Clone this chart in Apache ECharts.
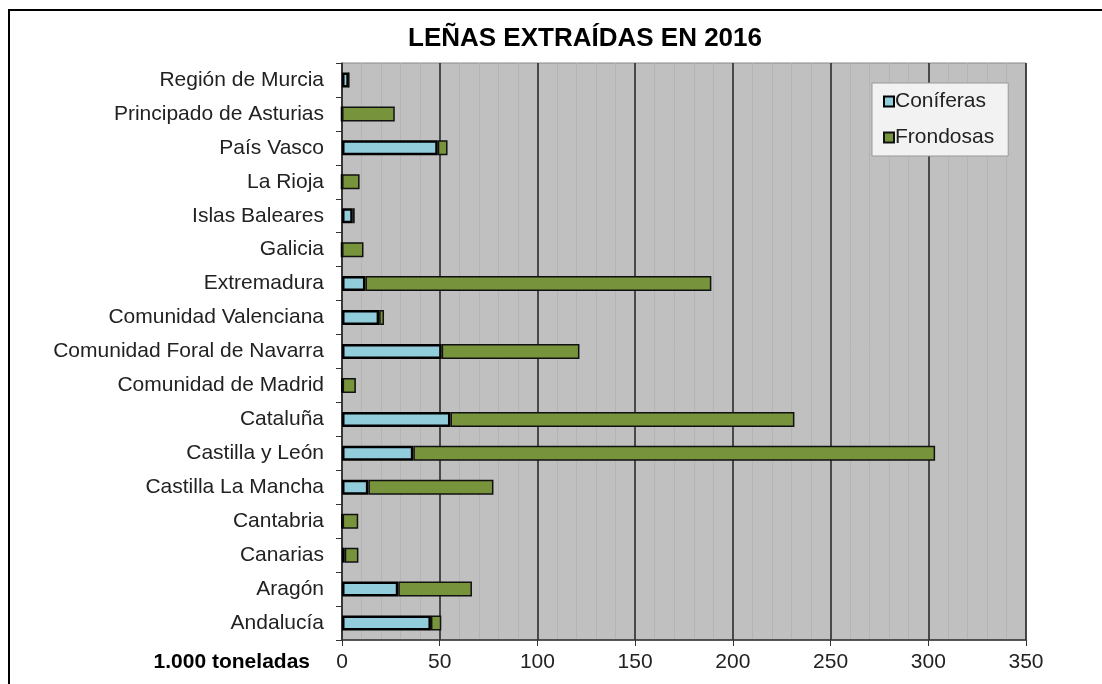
<!DOCTYPE html>
<html>
<head>
<meta charset="utf-8">
<script src="https://cdn.jsdelivr.net/npm/echarts@6/dist/echarts.min.js"></script>
<style>
html, body { margin: 0; padding: 0; background: #fff; }
#chart-panel { width: 1102px; height: 684px; }
</style>
</head>
<body>
<div id="chart-panel"></div>
<script>
var regiones = ['Región de Murcia', 'Principado de Asturias', 'País Vasco', 'La Rioja',
    'Islas Baleares', 'Galicia', 'Extremadura', 'Comunidad Valenciana',
    'Comunidad Foral de Navarra', 'Comunidad de Madrid', 'Cataluña', 'Castilla y León',
    'Castilla La Mancha', 'Cantabria', 'Canarias', 'Aragón', 'Andalucía'];
// miles de toneladas
var coniferas = [3.5, 0, 49, 0, 5.5, 0, 12, 19, 51, 0.3, 55.5, 36.5, 13.5, 0.3, 1.4, 28.8, 45.5];
var frondosas = [0, 27, 5, 9, 1, 11, 177, 2.5, 70.5, 6.8, 176, 267, 64, 8, 7, 37.7, 5.3];
var ejeTicks = [0, 50, 100, 150, 200, 250, 300, 350];

var fuente = '"Liberation Sans", Arial, sans-serif';
var myChart = echarts.init(document.getElementById('chart-panel'));

myChart.setOption({
    backgroundColor: '#fff',
    animation: false,
    textStyle: { fontFamily: fuente },
    title: {
        text: 'LEÑAS EXTRAÍDAS EN 2016',
        left: 580,
        textAlign: 'center',
        top: 21,
        textStyle: { fontSize: 26, fontWeight: 'bold', color: '#000', fontFamily: fuente }
    },
    legend: {
        orient: 'vertical',
        left: 872,
        top: 83,
        padding: [8, 14, 8, 11],
        itemGap: 15,
        itemWidth: 10,
        itemHeight: 10,
        backgroundColor: '#f2f2f2',
        borderColor: '#999',
        borderWidth: 1,
        textStyle: { fontSize: 21, color: '#222', padding: [0, 0, 0, -4] },
        data: [
            { name: 'Coníferas', icon: 'rect' },
            { name: 'Frondosas', icon: 'rect' }
        ]
    },
    grid: {
        left: 342,
        right: 76,
        top: 63,
        bottom: 44,
        show: true,
        backgroundColor: '#c0c0c0',
        borderColor: '#888',
        borderWidth: 1
    },
    xAxis: {
        type: 'value',
        min: ejeTicks[0],
        max: ejeTicks[ejeTicks.length - 1],
        interval: 50,
        axisLine: { show: true, lineStyle: { color: '#333', width: 1.5 } },
        axisTick: { show: true, length: 6, lineStyle: { color: '#333' } },
        axisLabel: { fontSize: 21, color: '#222', margin: 12 },
        splitLine: { show: true, lineStyle: { color: '#222', width: 1.5 } },
        minorTick: { show: false, splitNumber: 5 },
        minorSplitLine: { show: true, lineStyle: { color: '#b4b4b4', width: 1 } }
    },
    yAxis: {
        type: 'category',
        inverse: true,
        data: regiones,
        axisLine: { show: true, lineStyle: { color: '#333', width: 1.5 } },
        axisTick: { show: true, length: 6, lineStyle: { color: '#333' } },
        axisLabel: { fontSize: 21, color: '#222', margin: 18 }
    },
    graphic: [
        {
            type: 'rect',
            shape: { x: 9, y: 10, width: 1300, height: 900 },
            style: { fill: 'none', stroke: '#000', lineWidth: 2 },
            silent: true
        },
        {
            type: 'text',
            right: 1102 - 310,
            top: 652,
            style: { text: '1.000 toneladas', font: 'bold 21px ' + fuente, fill: '#000' }
        }
    ],
    series: [
        {
            name: 'Coníferas',
            type: 'bar',
            stack: 'total',
            barWidth: 15,
            data: coniferas,
            itemStyle: { color: '#92cddc', borderColor: '#000', borderWidth: 2.5 }
        },
        {
            name: 'Frondosas',
            type: 'bar',
            stack: 'total',
            barWidth: 15,
            data: frondosas,
            itemStyle: { color: '#77933c', borderColor: '#111', borderWidth: 1.5 }
        }
    ]
});
</script>
</body>
</html>
